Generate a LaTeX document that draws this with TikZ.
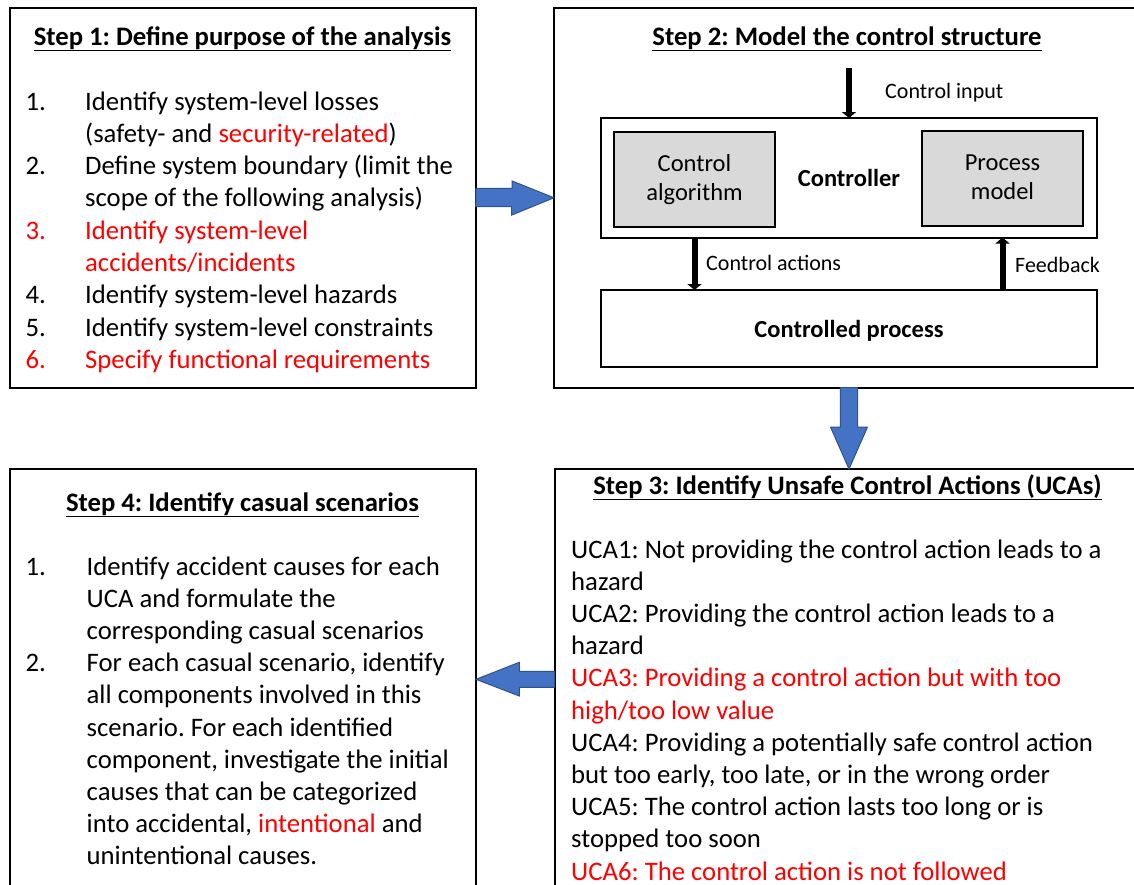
\documentclass[tikz,border=0pt]{standalone}
\usepackage{fontspec}
\setmainfont{Carlito}
\usetikzlibrary{arrows.meta}
\definecolor{hl}{HTML}{FF0000}
\definecolor{arrowblue}{HTML}{4472C4}
\definecolor{arrowedge}{HTML}{2F528F}
\definecolor{subbox}{HTML}{D9D9D9}
\frenchspacing

\begin{document}
\begin{tikzpicture}[x=1pt,y=-1pt,
  panel/.style={draw=black, line width=2pt, anchor=north west, inner sep=0pt, outer sep=0pt},
  sub/.style={panel, fill=subbox},
  body/.style={anchor=base west, inner sep=0pt, font=\fontsize{26.7}{32.4}\selectfont},
  ttl/.style={anchor=base, inner sep=0pt, font=\fontsize{26.7}{32.4}\selectfont\bfseries},
  lbl/.style={anchor=base west, inner sep=0pt, font=\fontsize{22}{26}\selectfont},
  boxtxt/.style={align=center, inner sep=0pt, font=\fontsize{24.5}{28.5}\selectfont},
  sig/.style={line width=6pt, -{Triangle[width=14pt,length=6pt]}},
  bluearrow/.style={fill=arrowblue, draw=arrowedge, line width=1pt, line join=miter},
]
\useasboundingbox (0,0) rectangle (1134,884);
\clip (0,0) rectangle (1134,884);

% ---------- the four step panels ----------
\node[panel, minimum width=466.5, minimum height=379.5] (s1) at (9.5,8) {};
\node[panel, minimum width=600, minimum height=379.5] (s2) at (554,8) {};
\node[panel, minimum width=600, minimum height=430] (s3) at (554.5,469) {};
\node[panel, minimum width=466, minimum height=430] (s4) at (10,469) {};

% ---------- Step 1 ----------
\node[ttl] (t1) at (242.5,45) {\underline{Step 1: Define purpose of the analysis}};
\node[body] (n11) at (25.5,110) {1.};
\node[body] (l11) at (85,110) {Identify system-level losses};
\node[body] (l12) at (85,142.3) {(safety- and \textcolor{hl}{security-related})};
\node[body] (n12) at (25.5,174.6) {2.};
\node[body] (l13) at (85,174.6) {Define system boundary (limit the};
\node[body] (l14) at (85,206.9) {scope of the following analysis)};
\node[body, text=hl] (n13) at (25.5,239.2) {3.};
\node[body, text=hl] (l15) at (85,239.2) {Identify system-level};
\node[body, text=hl] (l16) at (85,271.5) {accidents/incidents};
\node[body] (n14) at (25.5,303.8) {4.};
\node[body] (l17) at (85,303.8) {Identify system-level hazards};
\node[body] (n15) at (25.5,336.1) {5.};
\node[body] (l18) at (85,336.1) {Identify system-level constraints};
\node[body, text=hl] (n16) at (25.5,368.4) {6.};
\node[body, text=hl] (l19) at (85,368.4) {Specify functional requirements};

% ---------- Step 2: control structure ----------
\node[ttl] (t2) at (847,45) {\underline{Step 2: Model the control structure}};
\node[panel, minimum width=496, minimum height=119.5] (ctrl) at (601,118) {};
\node[sub, minimum width=161, minimum height=95] (algo) at (614,132) {};
\node[sub, minimum width=161, minimum height=95] (pmodel) at (922,131) {};
\node[panel, minimum width=496, minimum height=77] (proc) at (601,290) {};
\node[boxtxt] (algotxt) at (algo.center) {Control\\algorithm};
\node[boxtxt] (pmodeltxt) at ([yshift=1.5]pmodel.center) {Process\\model};
\node[boxtxt, font=\fontsize{24.5}{28.5}\selectfont\bfseries] (ctrltxt) at (ctrl.center) {Controller};
\node[boxtxt, font=\fontsize{24.5}{28.5}\selectfont\bfseries, text depth=0pt] (proctxt) at (proc.center) {Controlled process};

\coordinate (cin) at (ctrl.north |- 0,68);
\draw[sig] (cin) -- (ctrl.north);
\draw[sig] (ctrl.south -| algo.south) -- (proc.north -| algo.south);
\draw[sig] (proc.north -| pmodel.south) -- (ctrl.south -| pmodel.south);
\node[lbl] (cinlbl) at (885,98) {Control input};
\node[lbl] (calbl) at (706,270) {Control actions};
\node[lbl] (fblbl) at (1015,272) {Feedback};

% ---------- Step 3 ----------
\node[ttl] (t3) at (847.5,494) {\underline{Step 3: Identify Unsafe Control Actions (UCAs)}};
\node[body] (u1) at (571,558) {UCA1: Not providing the control action leads to a};
\node[body] (u2) at (571,590.2) {hazard};
\node[body] (u3) at (571,622.4) {UCA2: Providing the control action leads to a};
\node[body] (u4) at (571,654.6) {hazard};
\node[body, text=hl] (u5) at (571,686.8) {UCA3: Providing a control action but with too};
\node[body, text=hl] (u6) at (571,719) {high/too low value};
\node[body] (u7) at (571,751.2) {UCA4: Providing a potentially safe control action};
\node[body] (u8) at (571,783.4) {but too early, too late, or in the wrong order};
\node[body] (u9) at (571,815.6) {UCA5: The control action lasts too long or is};
\node[body] (u10) at (571,847.8) {stopped too soon};
\node[body, text=hl] (u11) at (571,880) {UCA6: The control action is not followed};

% ---------- Step 4 ----------
\node[ttl] (t4) at (242.5,511) {\underline{Step 4: Identify casual scenarios}};
\node[body] (n41) at (25.5,575) {1.};
\node[body] (c1) at (86.5,575) {Identify accident causes for each};
\node[body] (c2) at (86.5,607.2) {UCA and formulate the};
\node[body] (c3) at (86.5,639.4) {corresponding casual scenarios};
\node[body] (n42) at (25.5,671.6) {2.};
\node[body] (c4) at (86.5,671.6) {For each casual scenario, identify};
\node[body] (c5) at (86.5,703.8) {all components involved in this};
\node[body] (c6) at (86.5,736) {scenario. For each identified};
\node[body] (c7) at (86.5,768.2) {component, investigate the initial};
\node[body] (c8) at (86.5,800.4) {causes that can be categorized};
\node[body] (c9) at (86.5,832.6) {into accidental, \textcolor{hl}{intentional} and};
\node[body] (c10) at (86.5,864.8) {unintentional causes.};

% ---------- block arrows between the steps ----------
% Step 1 -> Step 2
\draw[bluearrow] (s1.east) ++(0,-9.4) -- ++(36,0) -- ++(0,-7.4)
  -- (s2.west |- s1.east) -- ++(-42.3,17.3) -- ++(0,-8.4) -- ++(-36,0) -- cycle;
% Step 2 -> Step 3
\coordinate (dtop) at (ctrl.center |- s2.south);
\coordinate (dtip) at (ctrl.center |- s3.north);
\draw[bluearrow] (dtop) ++(-8.7,0) -- ++(0,39.5) -- ++(-9.8,0)
  -- (dtip) -- ++(18.5,-42) -- ++(-9.8,0) -- ++(0,-39.5) -- cycle;
% Step 3 -> Step 4
\coordinate (ltail) at (s3.west |- 0,679.3);
\coordinate (ltip) at (s4.east |- ltail);
\draw[bluearrow] (ltail) ++(0,-8) -- ++(-35.2,0) -- ++(0,-9)
  -- (ltip) -- ++(43.3,16.7) -- ++(0,-8.7) -- ++(35.2,0) -- cycle;
\end{tikzpicture}
\end{document}
